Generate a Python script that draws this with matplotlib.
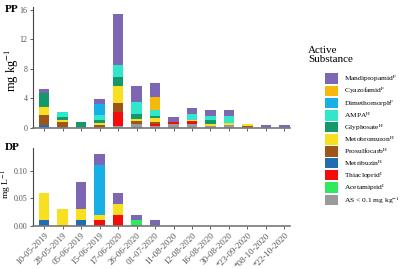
import numpy as np
import matplotlib
matplotlib.use("Agg")
import matplotlib.pyplot as plt
from matplotlib.patches import Patch

plt.rcParams['font.family'] = ['Liberation Serif', 'DejaVu Serif']
plt.rcParams['mathtext.fontset'] = 'stix'

dates = ["10-05-2019", "28-05-2019", "05-06-2019", "15-06-2019", "17-06-2020",
         "26-06-2020", "01-07-2020", "11-08-2020", "12-08-2020", "16-08-2020",
         "30-08-2020", "*23-09-2020", "*08-10-2020", "*22-10-2020"]

# legend order (top to bottom)
substances = ["Mandipropamid$^{\\mathrm{F}}$", "Cyazofamid$^{\\mathrm{F}}$", "Dimethomorph$^{\\mathrm{F}}$",
              "AMPA$^{\\mathrm{H}}$", "Glyphosate$^{\\mathrm{H}}$", "Metobromuron$^{\\mathrm{H}}$",
              "Prosulfocarb$^{\\mathrm{H}}$", "Metribuzin$^{\\mathrm{H}}$", "Thiacloprid$^{\\mathrm{I}}$",
              "Acetamiprid$^{\\mathrm{I}}$", "AS < 0.1 mg kg$^{-1}$"]
colors = ["#7d66b4", "#f6b90a", "#18aee6", "#30e8c9", "#14986b", "#f8e020",
          "#9e5518", "#1f6db3", "#f20c0c", "#2eea5c", "#9a9a9a"]

# PP values (mg/kg) per substance, same order as legend
pp_mandi = [0.6, 0, 0, 0.68, 6.9, 2.13, 1.8, 0.68, 0.85, 0.77, 0.91, 0, 0.25, 0.25]
pp_cyazo = [0, 0, 0, 0, 0, 0, 1.81, 0, 0, 0, 0, 0, 0, 0]
pp_dimet = [0, 0, 0, 1.59, 0, 0, 0, 0, 0, 0, 0, 0, 0, 0]
pp_ampa = [0, 0.65, 0, 0.58, 1.6, 1.58, 0.81, 0, 0.72, 0.59, 0.91, 0, 0, 0]
pp_glyph = [1.9, 0.35, 0.75, 0.46, 1.24, 0.68, 0.32, 0, 0, 0.55, 0, 0, 0, 0]
pp_metob = [1.1, 0.3, 0, 0.31, 2.26, 0.36, 0.55, 0, 0.24, 0.18, 0.31, 0.28, 0, 0]
pp_prosu = [1.35, 0.65, 0, 0.23, 1.23, 0.41, 0.25, 0, 0, 0, 0, 0.1, 0, 0]
pp_metri = [0.25, 0, 0, 0, 0, 0, 0, 0, 0, 0, 0, 0, 0, 0]
pp_thiac = [0, 0, 0, 0, 1.94, 0, 0.2, 0.31, 0.4, 0, 0, 0, 0, 0]
pp_aceta = [0, 0, 0, 0, 0, 0, 0, 0, 0, 0, 0, 0, 0, 0]
pp_other = [0.15, 0.2, 0.1, 0.14, 0.23, 0.5, 0.3, 0.5, 0.5, 0.31, 0.37, 0.2, 0.12, 0.12]

# DP values (mg/L)
dp_mandi = [0, 0, 0.05, 0.02, 0.02, 0.01, 0.01, 0, 0, 0, 0, 0, 0, 0]
dp_cyazo = [0] * 14
dp_dimet = [0, 0, 0, 0.09, 0, 0, 0, 0, 0, 0, 0, 0, 0, 0]
dp_ampa = [0] * 14
dp_glyph = [0] * 14
dp_metob = [0.05, 0.03, 0.02, 0.01, 0.02, 0, 0, 0, 0, 0, 0, 0, 0, 0]
dp_prosu = [0] * 14
dp_metri = [0.01, 0, 0.01, 0, 0, 0, 0, 0, 0, 0, 0, 0, 0, 0]
dp_thiac = [0, 0, 0, 0.01, 0.02, 0, 0, 0, 0, 0, 0, 0, 0, 0]
dp_aceta = [0, 0, 0, 0, 0, 0.01, 0, 0, 0, 0, 0, 0, 0, 0]
dp_other = [0] * 14

pp = [pp_mandi, pp_cyazo, pp_dimet, pp_ampa, pp_glyph, pp_metob, pp_prosu,
      pp_metri, pp_thiac, pp_aceta, pp_other]
dp = [dp_mandi, dp_cyazo, dp_dimet, dp_ampa, dp_glyph, dp_metob, dp_prosu,
      dp_metri, dp_thiac, dp_aceta, dp_other]


def stack_bars(ax, data):
    x = np.arange(len(dates))
    bottom = np.zeros(len(dates))
    # stack from the last legend entry up
    for vals, col in zip(data[::-1], colors[::-1]):
        vals = np.array(vals, dtype=float)
        ax.bar(x, vals, width=0.55, bottom=bottom, color=col, linewidth=0)
        bottom += vals
    ax.set_xlim(-0.6, 13.3)
    ax.spines['top'].set_visible(False)
    ax.spines['right'].set_visible(False)
    ax.spines['left'].set_color('#444444')
    ax.spines['bottom'].set_color('#777777')
    ax.spines['bottom'].set_linewidth(1.2)
    ax.tick_params(axis='both', colors='#444444', labelcolor='#555555',
                   length=2.5, width=0.6, pad=1.5)
    ax.tick_params(axis='x', labelsize=6.5)
    ax.tick_params(axis='y', labelsize=5.8)
    ax.set_xticks(x)


fig = plt.figure(figsize=(4.0, 2.69), dpi=100)
ax1 = fig.add_axes([33 / 400, 1 - 128 / 269, 257 / 400, 121 / 269])
ax2 = fig.add_axes([33 / 400, 1 - 226 / 269, 257 / 400, 78 / 269])

stack_bars(ax1, pp)
ax1.set_ylim(0, 16.4)
ax1.set_yticks([0, 4, 8, 12, 16])
ax1.set_xticklabels([])
ax1.set_ylabel("mg kg$^{-1}$", fontsize=9)
ax1.yaxis.set_label_coords(-12 / 257, 0.48)

stack_bars(ax2, dp)
ax2.set_ylim(0, 0.141)
ax2.set_yticks([0, 0.05, 0.10])
ax2.set_yticklabels(["0.00", "0.05", "0.10"])
ax2.set_xticklabels(dates, rotation=45, ha='right', rotation_mode='anchor')
ax2.set_ylabel("mg L$^{-1}$", fontsize=6.8)
ax2.yaxis.set_label_coords(-19 / 257, 0.53)

fig.text(5 / 400, 1 - 10 / 269, "PP", fontsize=8, fontweight='bold', va='center')
fig.text(5 / 400, 1 - 147 / 269, "DP", fontsize=8, fontweight='bold', va='center')

fig.text(308 / 400, 1 - 55 / 269, "Active\nSubstance", fontsize=8, va='center',
         linespacing=1.1)
handles = [Patch(facecolor=c, edgecolor='none') for c in colors]
fig.legend(handles, substances, loc='upper left',
           bbox_to_anchor=(320 / 400, 1 - 68 / 269), frameon=False,
           fontsize=5.4, handlelength=1.75, handleheight=1.75,
           labelspacing=0.2, handletextpad=0.75, borderpad=0.2)

fig.savefig("out.png", dpi=100)
